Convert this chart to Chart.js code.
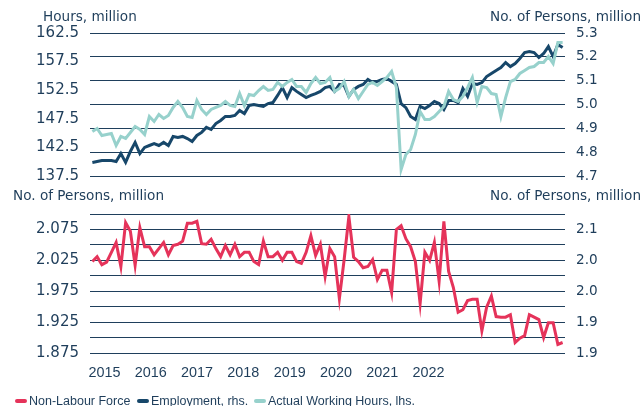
<!DOCTYPE html>
<html><head><meta charset="utf-8">
<script src="https://cdn.jsdelivr.net/npm/chart.js@4.4.1/dist/chart.umd.min.js"></script>
<style>
html,body{margin:0;padding:0;background:#fff;}
#wrap{position:relative;width:643px;height:406px;overflow:hidden;font-family:'DejaVu Sans',sans-serif;color:#1e3d5a;}
canvas{position:absolute;left:0;top:0;}
.t{position:absolute;font-size:13.6px;line-height:13.6px;white-space:nowrap;}
.lg{position:absolute;top:392.5px;font-family:'Liberation Sans',sans-serif;font-size:12.5px;line-height:16px;white-space:nowrap;color:#1e3d5a;}
.dash{position:absolute;top:399px;width:12px;height:4px;border-radius:2px;}
</style></head><body>
<div id="wrap">
<canvas id="c2" width="643" height="406"></canvas>
<canvas id="c1" width="643" height="406"></canvas>
<div class="t" style="left:43px;top:10px">Hours, million</div>
<div class="t" style="right:2px;top:10px">No. of Persons, million</div>
<div class="t" style="left:13px;top:188.5px">No. of Persons, million</div>
<div class="t" style="right:2px;top:188.5px">No. of Persons, million</div>
<div id="legend"></div>
</div>
<script>
const months = [
"2014-11","2014-12",
"2015-01","2015-02","2015-03","2015-04","2015-05","2015-06","2015-07","2015-08","2015-09","2015-10","2015-11","2015-12",
"2016-01","2016-02","2016-03","2016-04","2016-05","2016-06","2016-07","2016-08","2016-09","2016-10","2016-11","2016-12",
"2017-01","2017-02","2017-03","2017-04","2017-05","2017-06","2017-07","2017-08","2017-09","2017-10","2017-11","2017-12",
"2018-01","2018-02","2018-03","2018-04","2018-05","2018-06","2018-07","2018-08","2018-09","2018-10","2018-11","2018-12",
"2019-01","2019-02","2019-03","2019-04","2019-05","2019-06","2019-07","2019-08","2019-09","2019-10","2019-11","2019-12",
"2020-01","2020-02","2020-03","2020-04","2020-05","2020-06","2020-07","2020-08","2020-09","2020-10","2020-11","2020-12",
"2021-01","2021-02","2021-03","2021-04","2021-05","2021-06","2021-07","2021-08","2021-09","2021-10","2021-11","2021-12",
"2022-01","2022-02","2022-03","2022-04","2022-05","2022-06","2022-07","2022-08","2022-09","2022-10","2022-11","2022-12",
"2023-01","2023-02"];

const employment = [
4.757,4.761,4.765,4.765,4.765,4.761,4.794,4.757,4.803,4.841,
4.794,4.820,4.828,4.836,4.828,4.841,4.828,4.866,4.862,4.866,
4.857,4.845,4.870,4.883,4.904,4.895,4.920,4.933,4.950,4.950,
4.954,4.975,4.962,4.996,5.000,4.996,4.992,5.004,5.008,5.038,
5.071,5.029,5.071,5.055,5.042,5.029,5.038,5.046,5.055,5.071,
5.076,5.055,5.084,5.080,5.034,5.063,5.076,5.084,5.105,5.092,
5.097,5.105,5.109,5.097,5.084,5.004,4.987,4.950,4.937,4.992,
4.983,4.996,5.013,5.004,4.979,5.017,5.017,5.008,5.067,5.034,
5.088,5.084,5.092,5.117,5.130,5.143,5.155,5.176,5.159,5.172,
5.193,5.218,5.222,5.218,5.197,5.214,5.243,5.201,5.252,5.239];

const workingHours = [
145.28,145.80,144.58,144.76,144.93,142.83,144.41,144.06,145.11,146.15,
145.63,144.76,147.90,147.03,148.25,147.55,148.08,149.48,150.52,149.48,
147.90,147.73,150.70,149.13,148.25,149.13,149.48,149.83,150.52,149.83,
149.65,151.92,149.83,151.75,151.57,152.45,153.15,152.45,152.62,153.85,
153.15,153.85,154.37,153.15,153.15,152.10,153.67,154.72,153.67,153.85,
154.72,152.27,152.80,154.02,151.40,152.62,151.05,152.27,153.50,153.85,
153.32,154.02,154.72,155.77,152.97,138.64,141.26,142.13,144.76,148.78,
147.38,147.38,147.90,148.78,149.65,152.27,150.87,150.52,151.40,152.97,
154.72,150.35,153.15,152.97,151.92,151.75,147.90,151.22,154.02,154.37,
155.42,155.94,156.47,156.64,157.34,157.34,158.39,157.17,160.84,160.84];

const nonLabourForce = [
2.023,2.031,2.018,2.022,2.038,2.054,2.015,2.086,2.072,2.017,
2.078,2.047,2.047,2.034,2.044,2.054,2.034,2.049,2.051,2.056,
2.085,2.085,2.088,2.052,2.051,2.059,2.044,2.031,2.049,2.034,
2.051,2.031,2.038,2.038,2.023,2.018,2.056,2.031,2.031,2.038,
2.025,2.038,2.038,2.023,2.020,2.038,2.065,2.033,2.051,1.999,
2.044,2.031,1.963,2.026,2.096,2.030,2.023,2.013,2.015,2.026,
1.994,2.009,2.009,1.973,2.075,2.081,2.060,2.047,2.023,1.955,
2.038,2.025,2.054,1.991,2.088,2.007,1.981,1.941,1.945,1.960,
1.962,1.962,1.911,1.949,1.967,1.934,1.933,1.933,1.937,1.892,
1.899,1.903,1.937,1.933,1.929,1.900,1.924,1.924,1.889,1.892];

const yearLabels = ["2015","2016","2017","2018","2019","2020","2021","2022"];
const hoursTicks = ["137.5","142.5","147.5","152.5","157.5","162.5"];
const personsTicks = ["4.7","4.8","4.9","5.0","5.1","5.2","5.3"];
const nlfTicksLeft = ["1.875","1.925","1.975","2.025","2.075"];
const nlfTicksRight = ["1.9","1.9","2.0","2.0","2.1"];
const legendLabels = ["Non-Labour Force","Employment, rhs.","Actual Working Hours, lhs."];

const TEXT = '#1e3d5a', GRID = '#1f3f5c';
const C_NLF = '#e5335a', C_EMP = '#17476a', C_HRS = '#97d1cc';
const YEAR_AXIS_MIN = 2014.687, YEAR_AXIS_MAX = 2024.949;

function labelPicker(list, values) {
  return function (v) {
    for (let i = 0; i < values.length; i++) {
      if (Math.abs(v - parseFloat(values[i])) < 1e-6) return list[i];
    }
    return '';
  };
}
const leftFont = {family: 'DejaVu Sans', size: 15};
const rightFont = {family: 'DejaVu Sans', size: 13.6};

new Chart(document.getElementById('c1'), {
  type: 'line',
  data: {
    labels: months,
    datasets: [
      {label: legendLabels[2], data: workingHours, yAxisID: 'yL', borderColor: C_HRS, borderWidth: 3, pointRadius: 0, tension: 0, fill: false},
      {label: legendLabels[1], data: employment, yAxisID: 'yR', borderColor: C_EMP, borderWidth: 3, pointRadius: 0, tension: 0, fill: false}
    ]
  },
  options: {
    responsive: false, animation: false, devicePixelRatio: 1,
    layout: {padding: {top: 33, bottom: 230, left: 0, right: 0}},
    plugins: {legend: {display: false}, tooltip: {enabled: false}},
    scales: {
      x: {type: 'category', offset: true, display: false},
      yL: {type: 'linear', position: 'left', min: 137.5, max: 162.5,
        ticks: {stepSize: 5, autoSkip: false, padding: 11, color: TEXT, font: leftFont, callback: labelPicker(hoursTicks, hoursTicks)},
        grid: {display: false, drawTicks: false}, border: {display: false},
        afterFit(s) { s.width = 90; }},
      yR: {type: 'linear', position: 'right', min: 4.7, max: 5.3,
        ticks: {stepSize: 0.1, autoSkip: false, padding: 11, color: TEXT, font: rightFont, callback: labelPicker(personsTicks, personsTicks)},
        grid: {display: true, color: GRID, lineWidth: 1, drawTicks: false}, border: {display: false},
        afterFit(s) { s.width = 78; }}
    }
  }
});

new Chart(document.getElementById('c2'), {
  type: 'line',
  data: {
    labels: months,
    datasets: [
      {label: legendLabels[0], data: nonLabourForce, yAxisID: 'yL', borderColor: C_NLF, borderWidth: 3, pointRadius: 0, tension: 0, fill: false}
    ]
  },
  options: {
    responsive: false, animation: false, devicePixelRatio: 1,
    layout: {padding: {top: 214, bottom: 25, left: 0, right: 0}},
    plugins: {legend: {display: false}, tooltip: {enabled: false}},
    scales: {
      x: {type: 'category', offset: true, display: false},
      xYear: {type: 'linear', axis: 'x', position: 'bottom', min: YEAR_AXIS_MIN, max: YEAR_AXIS_MAX,
        ticks: {stepSize: 1, includeBounds: false, autoSkip: false, maxRotation: 0, padding: 11, color: TEXT,
          font: {family: 'Liberation Sans', size: 14.4},
          callback: v => yearLabels.includes(String(v)) ? String(v) : ''},
        grid: {display: false, drawTicks: false}, border: {display: false},
        afterFit(s) { s.height = 28; }},
      yL: {type: 'linear', position: 'left', min: 1.875, max: 2.1,
        ticks: {stepSize: 0.025, autoSkip: false, padding: 11, color: TEXT, font: leftFont, callback: labelPicker(nlfTicksLeft, nlfTicksLeft)},
        grid: {display: true, color: GRID, lineWidth: 1, drawTicks: false}, border: {display: false},
        afterFit(s) { s.width = 90; }},
      yR: {type: 'linear', position: 'right', min: 1.875, max: 2.1,
        ticks: {stepSize: 0.025, autoSkip: false, padding: 11, color: TEXT, font: rightFont, callback: labelPicker(nlfTicksRight, nlfTicksLeft)},
        grid: {display: false, drawTicks: false}, border: {display: false},
        afterFit(s) { s.width = 78; }}
    }
  }
});

// legend
const legendColors = [C_NLF, C_EMP, C_HRS];
const dashX = [15, 137, 254];
const textX = [29, 151, 268];
const lg = document.getElementById('legend');
legendLabels.forEach((t, i) => {
  const d = document.createElement('div');
  d.className = 'dash'; d.style.left = dashX[i] + 'px'; d.style.background = legendColors[i];
  lg.appendChild(d);
  const s = document.createElement('div');
  s.className = 'lg'; s.style.left = textX[i] + 'px'; s.textContent = t;
  lg.appendChild(s);
});
</script>
</body></html>
